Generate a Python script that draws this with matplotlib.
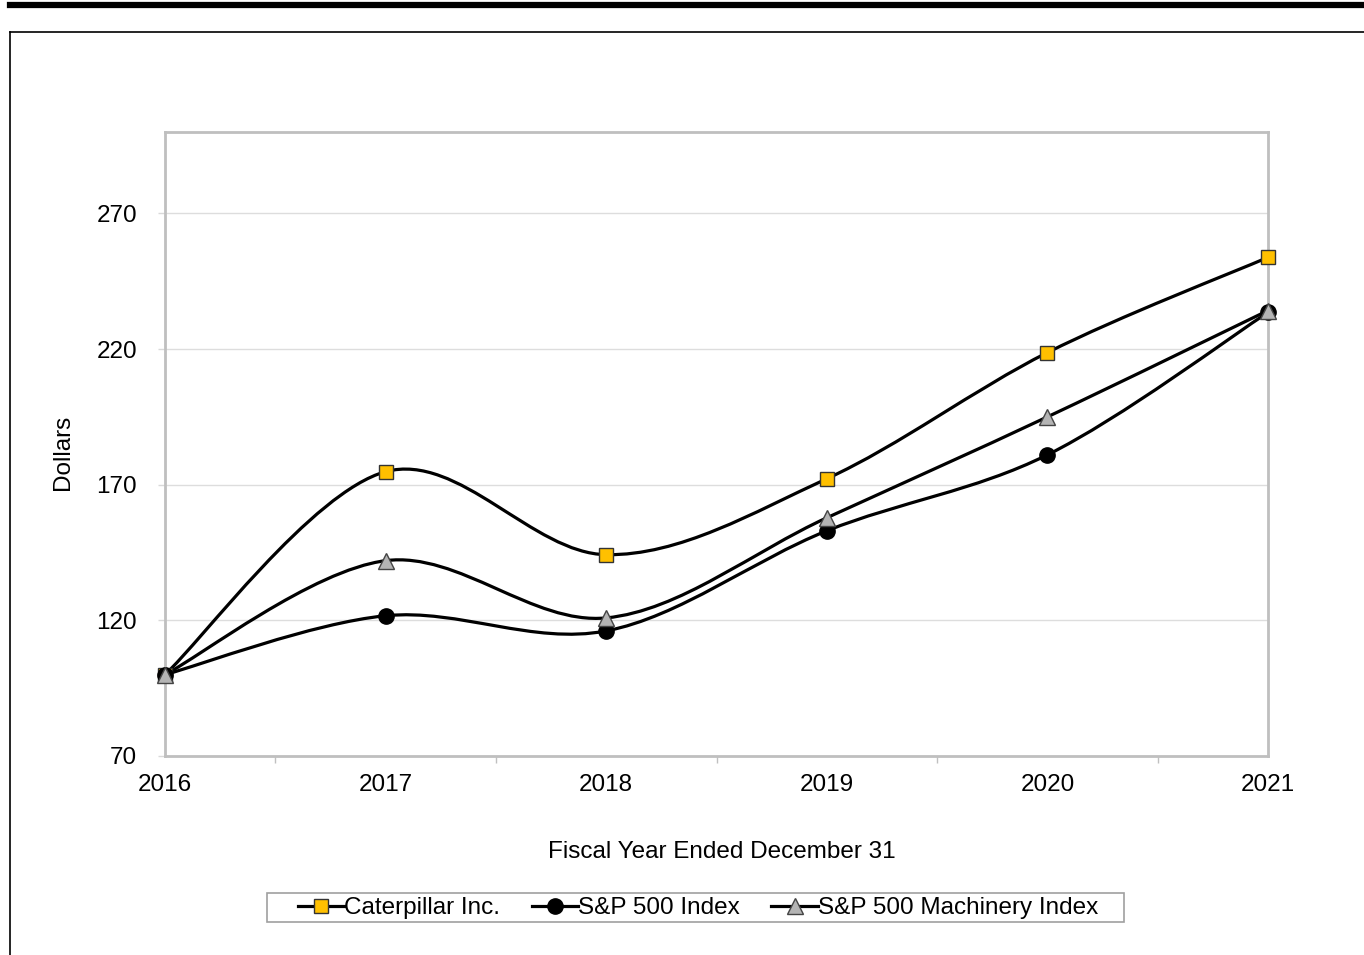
import matplotlib
matplotlib.use("Agg")
import matplotlib.pyplot as plt
from matplotlib.path import Path
from matplotlib.patches import PathPatch, Rectangle
from matplotlib.lines import Line2D
import numpy as np

plt.rcParams['font.family'] = ['Liberation Sans', 'DejaVu Sans']

years = ["2016", "2017", "2018", "2019", "2020", "2021"]
caterpillar = [100, 174.8, 144.2, 172.2, 218.7, 253.8]
sp500 = [100, 121.7, 116.1, 153.0, 181.0, 233.5]
machinery = [100, 142.0, 120.9, 157.8, 195.0, 234.2]
yticks = [70, 120, 170, 220, 270]

W, H = 1364, 955
FS = 17.5
fig = plt.figure(figsize=(W / 100, H / 100), dpi=100)
ax = fig.add_axes([165 / W, 1 - 756 / H, (1268 - 165) / W, (756 - 132) / H])

def smooth_path(xs, ys):
    pts = np.column_stack([xs, ys]).astype(float)
    n = len(pts)
    verts = [pts[0]]
    codes = [Path.MOVETO]
    for i in range(n - 1):
        p0 = pts[i - 1] if i > 0 else pts[i]
        p1 = pts[i]
        p2 = pts[i + 1]
        p3 = pts[i + 2] if i + 2 < n else pts[i + 1]
        c1 = p1 + (p2 - p0) / 6.0
        c2 = p2 - (p3 - p1) / 6.0
        verts += [c1, c2, p2]
        codes += [Path.CURVE4] * 3
    return Path(verts, codes)

x = np.arange(len(years))
series = [
    (caterpillar, dict(marker='s', markerfacecolor='#FFC000', markeredgecolor='#333333', markersize=10, markeredgewidth=1.0), "Caterpillar Inc."),
    (sp500, dict(marker='o', markerfacecolor='black', markeredgecolor='black', markersize=11), "S&P 500 Index"),
    (machinery, dict(marker='^', markerfacecolor='#B4B4B4', markeredgecolor='#444444', markersize=11, markeredgewidth=1.0), "S&P 500 Machinery Index"),
]

handles = []
for vals, mk, label in series:
    patch = PathPatch(smooth_path(x, vals), facecolor='none', edgecolor='black', lw=2.3, zorder=3, clip_on=False)
    ax.add_patch(patch)
    ax.plot(x, vals, linestyle='none', zorder=4, clip_on=False, **mk)
    handles.append(Line2D([], [], color='black', lw=2.3, label=label, **mk))

ax.set_xlim(0, 5)
ax.set_ylim(70, 300)
ax.set_yticks(yticks)
ax.set_yticklabels([str(v) for v in yticks], fontsize=FS)
ax.set_xticks(x)
ax.set_xticklabels(years, fontsize=FS)
ax.set_xticks(x[:-1] + 0.5, minor=True)
ax.tick_params(axis='x', which='major', length=0, pad=13)
ax.tick_params(axis='x', which='minor', length=5, color='#C0C0C0', width=1)
ax.tick_params(axis='y', which='major', length=5, color='#D9D9D9', width=1, pad=15)
ax.yaxis.grid(True, color='#DDDDDD', lw=1)
ax.set_axisbelow(True)
for s in ax.spines.values():
    s.set_color('#BFBFBF')
    s.set_linewidth(2)

fig.text(63 / W, 1 - 452 / H, "Dollars", rotation=90, ha='center', va='center', fontsize=FS)
fig.text(722 / W, 1 - 852 / H, "Fiscal Year Ended December 31", ha='center', va='center', fontsize=FS)

leg = fig.legend(handles=handles, loc='center', bbox_to_anchor=(698 / W, 1 - 908 / H), ncol=3,
                 fontsize=FS, frameon=False,
                 handlelength=1.9, handletextpad=0.0, columnspacing=1.3, borderpad=0.1,
                 borderaxespad=0)
fig.add_artist(Rectangle((267 / W, 1 - 922 / H), (1124 - 267) / W, 29 / H, transform=fig.transFigure,
                         facecolor='none', edgecolor='#A0A0A0', lw=1.2))

# outer frame lines
fig.add_artist(Line2D([10 / W, 1.0], [1 - 5 / H, 1 - 5 / H], color='black', lw=4.5, transform=fig.transFigure))
fig.add_artist(Line2D([10 / W, 1.0], [1 - 32 / H, 1 - 32 / H], color='black', lw=1.2, transform=fig.transFigure))
fig.add_artist(Line2D([10 / W, 10 / W], [1 - 32 / H, 0], color='black', lw=1.2, transform=fig.transFigure))

fig.savefig("out.png", dpi=100)
